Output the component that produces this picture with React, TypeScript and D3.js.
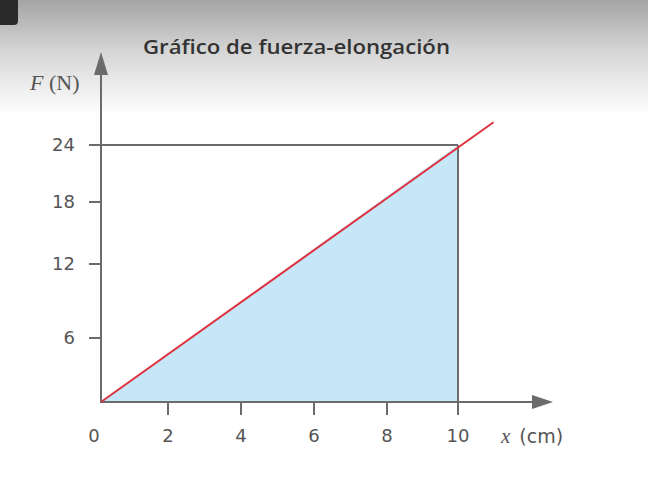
import * as d3 from "d3";
import { useRef, useEffect } from "react";

const W = 648;
const H = 497;

// tick values
const xTicks = [0, 2, 4, 6, 8, 10];
const yTicks = [6, 12, 18, 24];
// pixel spacing in the drawing is uneven, so each scale is piecewise
const xStops = [0, 2, 4, 6, 8, 10];
const yStops = [0, 6, 12, 18, 24];
// force-elongation line: F = 2.4 x, drawn a little past x = 10
const lineX = [0, 11];
const lineF = [0, 26.4];
const areaX = [0, 10];
const areaF = [0, 24];
const title = "Gráfico de fuerza-elongación";

const App = () => {
  const ref = useRef<SVGSVGElement>(null);

  useEffect(() => {
    const svg = d3.select(ref.current);
    svg.selectAll("*").remove();

    const x = d3.scaleLinear().domain(xStops).range([101, 168, 241, 314, 387, 458]);
    const y = d3.scaleLinear().domain(yStops).range([402, 338, 264, 202, 145]);

    const axisColor = "#6b6b6b";
    const textColor = "#555";

    // top gray gradient and the dark tab
    const defs = svg.append("defs");
    const grad = defs.append("linearGradient")
      .attr("id", "bg").attr("x1", 0).attr("y1", 0).attr("x2", 0).attr("y2", 1);
    grad.append("stop").attr("offset", 0).attr("stop-color", "#a4a4a4");
    grad.append("stop").attr("offset", 0.45).attr("stop-color", "#d6d6d6");
    grad.append("stop").attr("offset", 1).attr("stop-color", "#ffffff");
    svg.append("rect").attr("width", W).attr("height", H).attr("fill", "#fff");
    svg.append("rect").attr("width", W).attr("height", 115).attr("fill", "url(#bg)");
    svg.append("rect")
      .attr("x", -8).attr("y", -8).attr("width", 26).attr("height", 33)
      .attr("rx", 4).attr("fill", "#2a2a2a");

    // shaded area under line up to x = 10
    const pts = areaX.map((v, i) => [v, areaF[i]] as [number, number]);
    const area = d3.area<[number, number]>()
      .x(d => x(d[0]))
      .y0(y(0))
      .y1(d => y(d[1]));
    svg.append("path").datum(pts).attr("fill", "#c6e7f7").attr("d", area);

    // guide lines at F = 24 and x = 10
    svg.append("line")
      .attr("x1", x(0) - 12).attr("x2", x(10))
      .attr("y1", y(24)).attr("y2", y(24))
      .attr("stroke", axisColor).attr("stroke-width", 2);
    svg.append("line")
      .attr("x1", x(10)).attr("x2", x(10))
      .attr("y1", y(24)).attr("y2", y(0))
      .attr("stroke", axisColor).attr("stroke-width", 2);

    // axes
    svg.append("line")
      .attr("x1", x(0)).attr("x2", x(0)).attr("y1", y(0) + 1).attr("y2", 70)
      .attr("stroke", axisColor).attr("stroke-width", 2);
    svg.append("path")
      .attr("d", `M${x(0)},52 L${x(0) - 7},75 L${x(0) + 7},75 Z`)
      .attr("fill", axisColor);
    svg.append("line")
      .attr("x1", x(0) - 1).attr("x2", 536).attr("y1", y(0)).attr("y2", y(0))
      .attr("stroke", axisColor).attr("stroke-width", 2);
    svg.append("path")
      .attr("d", `M553,${y(0)} L532,${y(0) - 7} L532,${y(0) + 7} Z`)
      .attr("fill", axisColor);

    // y ticks
    const yt = svg.append("g");
    yt.selectAll("line").data(yTicks.filter(d => d !== 24)).join("line")
      .attr("x1", x(0) - 12).attr("x2", x(0))
      .attr("y1", d => y(d)).attr("y2", d => y(d))
      .attr("stroke", axisColor).attr("stroke-width", 2);
    yt.selectAll("text").data(yTicks).join("text")
      .attr("x", 75).attr("y", d => y(d)).attr("dy", "0.36em")
      .attr("text-anchor", "end")
      .attr("font-family", "DejaVu Sans, sans-serif").attr("font-size", 18)
      .attr("fill", textColor)
      .text(d => d);

    // x ticks
    const xt = svg.append("g");
    xt.selectAll("line").data(xTicks.filter(d => d !== 0 && d !== 10)).join("line")
      .attr("x1", d => x(d)).attr("x2", d => x(d))
      .attr("y1", y(0)).attr("y2", y(0) + 13)
      .attr("stroke", axisColor).attr("stroke-width", 2);
    xt.append("line")
      .attr("x1", x(10)).attr("x2", x(10)).attr("y1", y(0)).attr("y2", y(0) + 13)
      .attr("stroke", axisColor).attr("stroke-width", 2);
    xt.selectAll("text").data(xTicks).join("text")
      .attr("x", d => x(d) - (d === 0 ? 7 : 0)).attr("y", 442)
      .attr("text-anchor", "middle")
      .attr("font-family", "DejaVu Sans, sans-serif").attr("font-size", 18)
      .attr("fill", textColor)
      .text(d => d);

    // the red line
    const lp = lineX.map((v, i) => [v, lineF[i]] as [number, number]);
    svg.append("path").datum(lp)
      .attr("fill", "none").attr("stroke", "#e0313f").attr("stroke-width", 2)
      .attr("d", d3.line<[number, number]>().x(d => x(d[0])).y(d => y(d[1])));

    // axis labels
    const fl = svg.append("text").attr("x", 30).attr("y", 90)
      .attr("font-family", "Liberation Serif, serif").attr("font-size", 22)
      .attr("fill", textColor);
    fl.append("tspan").attr("font-style", "italic").text("F");
    fl.append("tspan").text(" (N)");

    const xl = svg.append("text").attr("x", 501).attr("y", 443)
      .attr("fill", textColor);
    xl.append("tspan").attr("font-family", "Liberation Serif, serif")
      .attr("font-style", "italic").attr("font-size", 21).text("x");
    xl.append("tspan").attr("font-family", "DejaVu Sans, sans-serif")
      .attr("font-size", 19).attr("dx", 9).text("(cm)");

    svg.append("text")
      .attr("x", 143).attr("y", 54)
      .attr("font-family", "Open Sans, sans-serif").attr("font-size", 19)
      .attr("font-weight", 600)
      .attr("fill", "#333")
      .attr("textLength", 307).attr("lengthAdjust", "spacingAndGlyphs")
      .text(title);
  }, []);

  return (
    <svg
      ref={ref}
      width={W}
      height={H}
      style={{ position: "absolute", left: 0, top: 0, display: "block" }}
    />
  );
};

export default App;
